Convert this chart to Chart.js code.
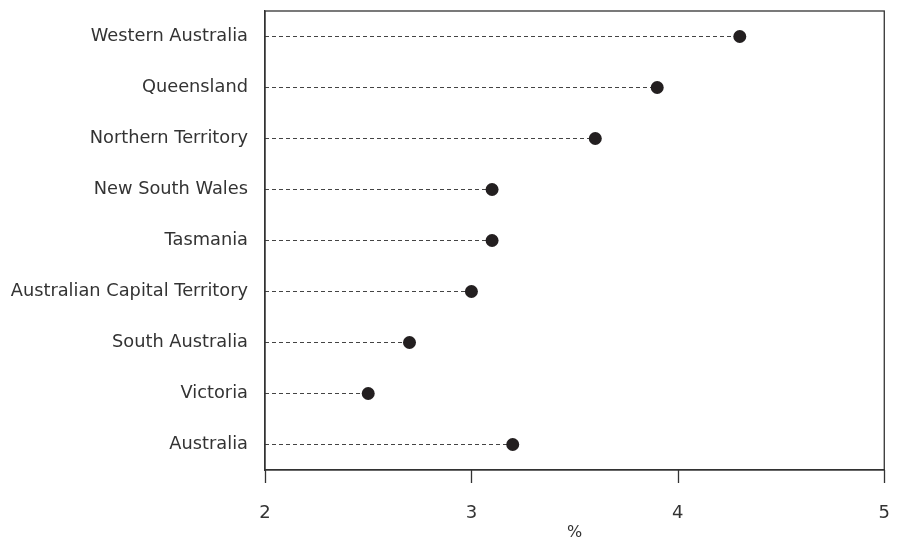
<!DOCTYPE html>
<html>
<head>
<meta charset="utf-8">
<script src="https://cdn.jsdelivr.net/npm/chart.js@4"></script>
<style>
  html, body { margin: 0; padding: 0; background: #fff; }
  #wrap { width: 915px; height: 542px; }
</style>
</head>
<body>
<div id="wrap"><canvas id="chart"></canvas></div>
<script>
// states, top to bottom
const states = ['Western Australia', 'Queensland', 'Northern Territory', 'New South Wales',
  'Tasmania', 'Australian Capital Territory', 'South Australia', 'Victoria', 'Australia'];
const values = [4.3, 3.9, 3.6, 3.1, 3.1, 3.0, 2.7, 2.5, 3.2];
const xTicks = [2, 3, 4, 5];

const ink = '#231f20';
const font = 'DejaVu Sans';

// one dashed line per state, from the axis start to the dot
const datasets = states.map((s, i) => ({
  data: [{ x: xTicks[0], y: s }, { x: values[i], y: s }],
  borderColor: '#444',
  borderWidth: 1,
  borderDash: [4, 3],
  pointRadius: [0, 6.5],
  pointBackgroundColor: ink,
  pointBorderColor: ink,
  pointBorderWidth: 0,
  fill: false
}));

// box round the plot area plus tick marks under the x axis
const frame = {
  id: 'frame',
  afterDraw(chart) {
    const a = chart.chartArea, ctx = chart.ctx;
    const x = chart.scales.x;
    ctx.save();
    ctx.strokeStyle = '#333';
    ctx.lineWidth = 1.3;
    ctx.strokeRect(a.left, a.top, a.right - a.left, a.bottom - a.top);
    ctx.beginPath();
    x.ticks.forEach(t => {
      const px = Math.round(x.getPixelForValue(t.value)) + 0.5;
      ctx.moveTo(px, a.bottom);
      ctx.lineTo(px, a.bottom + 13);
    });
    ctx.stroke();
    ctx.restore();
  }
};

new Chart(document.getElementById('chart'), {
  type: 'line',
  data: { labels: states, datasets: datasets },
  options: {
    responsive: true,
    maintainAspectRatio: false,
    animation: false,
    layout: { padding: { top: 11, right: 9, left: 0, bottom: 0 } },
    plugins: { legend: { display: false }, tooltip: { enabled: false } },
    scales: {
      x: {
        type: 'linear',
        min: 2,
        max: 5,
        afterBuildTicks: scale => { scale.ticks = xTicks.map(v => ({ value: v })); },
        afterFit: scale => { scale.height = 72; },
        grid: { display: false },
        border: { display: true, color: '#333', width: 1.3 },
        ticks: { color: '#333', padding: 25, font: { family: font, size: 18 } },
        title: { display: true, text: '%', color: '#333', padding: { top: 0, bottom: 0 }, font: { family: font, size: 16 } }
      },
      y: {
        type: 'category',
        offset: true,
        afterFit: scale => { scale.width = 265; scale.paddingTop = 0; scale.paddingBottom = 0; },
        grid: { display: false, drawTicks: false },
        border: { display: true, color: '#333', width: 1.3 },
        ticks: { color: '#333', padding: 17, font: { family: font, size: 17.8 } }
      }
    }
  },
  plugins: [frame]
});
</script>
</body>
</html>
